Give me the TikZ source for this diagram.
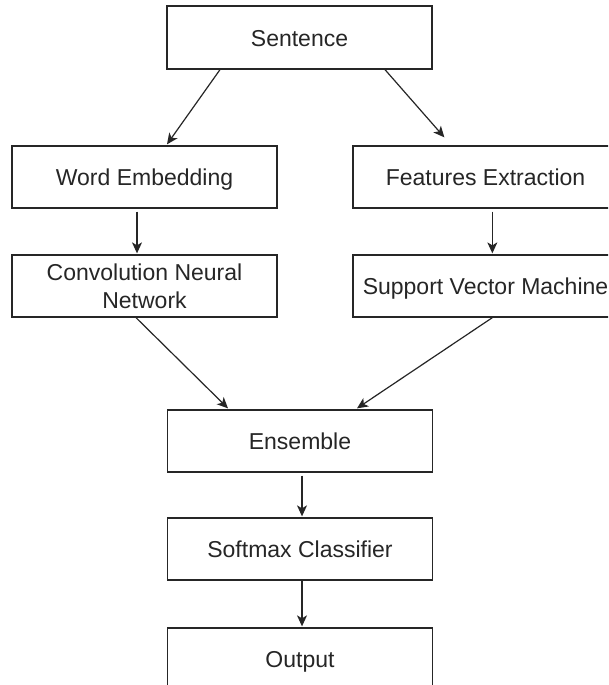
\documentclass[tikz,border=0pt]{standalone}
\usepackage{fontspec}
\setmainfont{Liberation Sans}
\usetikzlibrary{arrows.meta,calc}
\begin{document}
\begin{tikzpicture}[x=1pt,y=-1pt,
  box2/.style={draw=black!85,line width=1.3pt,fill=white,minimum width=265pt,minimum height=62pt,inner sep=0pt,align=center,text=black!85,font=\fontsize{23}{28}\selectfont},
  box/.style={box2,text height=17.8pt,text depth=0pt},
  wide/.style={box,minimum width=347pt},
  arr/.style={draw=black!85,line width=1.2pt,-{Stealth[length=11pt,width=10pt,inset=3pt]}}]
\useasboundingbox (0,0) rectangle (608,685);
\begin{scope}
\clip (0,0) rectangle (608,685);
\fill[white] (0,0) rectangle (608,685);
\node[box,minimum height=63pt] (sent) at (299.5,37.5) {Sentence};
\node[box] (we) at (144.5,177) {Word Embedding};
\node[box2] (cnn) at (144.5,286) {Convolution Neural\\Network};
\node[wide] (fe) at (526.5,177) {Features Extraction\hspace*{82pt}};
\node[wide] (svm) at (526.5,286) {Support Vector Machine\hspace*{82pt}};
\node[box] (ens) at (300,441) {Ensemble};
\node[box] (soft) at (300,549) {Softmax Classifier};
\node[box] (out) at (300,659) {Output};
\draw[arr] ($(sent.south)+(-79.5,0)$) -- ($(we.north)+(22.5,-1)$);
\draw[arr] ($(sent.south)+(85.5,0)$) -- ($(fe.north west)+(92,-8)$);
\draw[arr] ($(we.south)+(-7.5,3)$) -- ($(cnn.north)+(-7.5,-1)$);
\draw[arr] ($(fe.south west)+(140,3)$) -- ($(svm.north west)+(140,-1)$);
\draw[arr] ($(cnn.south)+(-8.5,0)$) -- ($(ens.north)+(-72,-1)$);
\draw[arr] ($(svm.south west)+(140,0)$) -- ($(ens.north)+(57,-1)$);
\draw[arr] ($(ens.south)+(2,3)$) -- ($(soft.north)+(2,-1)$);
\draw[arr] ($(soft.south)+(2,0)$) -- ($(out.north)+(2,-1)$);
\end{scope}
\end{tikzpicture}
\end{document}
